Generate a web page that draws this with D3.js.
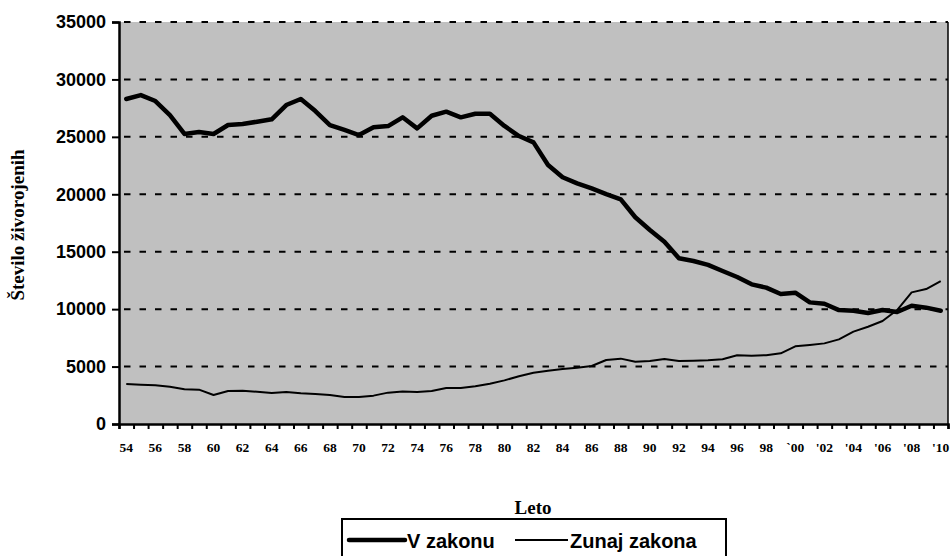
<!DOCTYPE html>
<html>
<head>
<meta charset="utf-8">
<script src="https://cdn.jsdelivr.net/npm/d3@7"></script>
<style>
	body { margin: 0; background: #fff; }
	svg { display: block; }
	.ytick text { font-family: Arial, 'Liberation Sans', sans-serif; font-weight: bold; font-size: 18px; }
	.xtick text { font-family: 'Times New Roman', 'Liberation Serif', serif; font-weight: bold; font-size: 13.5px; }
	.axis-title { font-family: 'Times New Roman', 'Liberation Serif', serif; font-weight: bold; font-size: 19px; }
	.legend text { font-family: Arial, 'Liberation Sans', sans-serif; font-weight: bold; font-size: 20px; }
</style>
</head>
<body>
<script>
const years = d3.range(1954, 2011);
const yearLabels = ['54', '56', '58', '60', '62', '64', '66', '68', '70', '72', '74', '76', '78',
	'80', '82', '84', '86', '88', '90', '92', '94', '96', '98', '`00', "'02", "'04", "'06", "'08", "'10"];
const yTicks = [0, 5000, 10000, 15000, 20000, 25000, 30000, 35000];

// V zakonu (rojeni v zakonski zvezi)
const vZakonu = [28300, 28640, 28120, 26900, 25250, 25420, 25250, 26030, 26120, 26320,
	26530, 27770, 28300, 27250, 26030, 25600, 25160, 25830, 25940, 26700,
	25740, 26840, 27190, 26700, 27010, 27010, 25950, 25070, 24520, 22550,
	21480, 20950, 20520, 20020, 19560, 18000, 16890, 15870, 14430, 14190,
	13850, 13320, 12800, 12160, 11870, 11320, 11430, 10590, 10470, 9920,
	9860, 9660, 9920, 9750, 10300, 10130, 9860];

// Zunaj zakona
const zunajZakona = [3480, 3420, 3370, 3250, 3020, 2990, 2520, 2870, 2900, 2810,
	2700, 2790, 2670, 2610, 2520, 2350, 2350, 2470, 2730, 2840,
	2790, 2870, 3130, 3130, 3280, 3510, 3800, 4150, 4470, 4640,
	4790, 4900, 5050, 5570, 5690, 5420, 5480, 5660, 5480, 5510,
	5560, 5640, 5990, 5950, 5990, 6150, 6760, 6880, 7020, 7370,
	8040, 8470, 8970, 9920, 11460, 11750, 12450];

const svgSize = {'width' : 951, 'height' : 556};
const plot = {'left' : 119, 'top' : 22, 'right' : 948, 'bottom' : 424};

var svg = d3.select('body').append('svg')
	.attr('width', svgSize.width)
	.attr('height', svgSize.height);

var xBand = d3.scaleBand().domain(years).range([plot.left, plot.right]);
var xPos = (yr) => xBand(yr) + xBand.bandwidth() / 2;
var y = d3.scaleLinear().domain([0, 35000]).range([plot.bottom, plot.top]);

// plot area
svg.append('rect')
	.attr('x', plot.left)
	.attr('y', plot.top)
	.attr('width', plot.right - plot.left)
	.attr('height', plot.bottom - plot.top)
	.attr('fill', '#c0c0c0');

// dashed gridlines
svg.append('g')
	.selectAll('line')
	.data(yTicks.filter((d) => d > 0))
	.enter()
	.append('line')
	.attr('x1', plot.left + 2)
	.attr('x2', plot.right)
	.attr('y1', (d) => y(d))
	.attr('y2', (d) => y(d))
	.attr('stroke', '#000')
	.attr('stroke-width', 2)
	.attr('stroke-dasharray', '6.5,9')
	.attr('stroke-dashoffset', -3);

// right border
svg.append('line')
	.attr('x1', plot.right).attr('x2', plot.right)
	.attr('y1', plot.top).attr('y2', plot.bottom)
	.attr('stroke', '#000')
	.attr('stroke-width', 1.5);

// y axis
var yAxis = svg.append('g')
	.attr('class', 'ytick')
	.attr('transform', `translate(${plot.left}, 0)`)
	.call(d3.axisLeft(y).tickValues(yTicks).tickSize(7).tickPadding(6).tickFormat(d3.format('d')));
yAxis.select('.domain').attr('stroke-width', 2.5);
yAxis.selectAll('.tick line').attr('stroke-width', 2);

// x axis: ticks on category boundaries
var xTickScale = d3.scaleLinear().domain([0, years.length]).range([plot.left, plot.right]);
var xAxis = svg.append('g')
	.attr('transform', `translate(0, ${plot.bottom})`)
	.call(d3.axisBottom(xTickScale).tickValues(d3.range(0, years.length + 1)).tickSize(5).tickFormat(''));
xAxis.select('.domain').attr('stroke-width', 2.5);
xAxis.selectAll('.tick line').attr('stroke-width', 2);

svg.append('g')
	.attr('class', 'xtick')
	.selectAll('text')
	.data(yearLabels)
	.enter()
	.append('text')
	.attr('x', (d, i) => xPos(years[i * 2]))
	.attr('y', 452)
	.attr('text-anchor', 'middle')
	.text((d) => d);

// series
var line = d3.line()
	.x((d, i) => xPos(years[i]))
	.y((d) => y(d));

svg.append('path')
	.datum(zunajZakona)
	.attr('d', line)
	.attr('fill', 'none')
	.attr('stroke', '#000')
	.attr('stroke-width', 2)
	.attr('stroke-linejoin', 'round');

svg.append('path')
	.datum(vZakonu)
	.attr('d', line)
	.attr('fill', 'none')
	.attr('stroke', '#000')
	.attr('stroke-width', 4.5)
	.attr('stroke-linejoin', 'round')
	.attr('stroke-linecap', 'round');

// axis titles
svg.append('text')
	.attr('class', 'axis-title')
	.attr('x', 533)
	.attr('y', 514)
	.attr('text-anchor', 'middle')
	.text('Leto');

svg.append('text')
	.attr('class', 'axis-title')
	.attr('transform', 'translate(24, 225) rotate(-90)')
	.attr('text-anchor', 'middle')
	.text('Število živorojenih');

// legend
var legend = svg.append('g').attr('class', 'legend');
legend.append('rect')
	.attr('x', 342).attr('y', 519)
	.attr('width', 384).attr('height', 50)
	.attr('fill', '#fff')
	.attr('stroke', '#000')
	.attr('stroke-width', 2);
legend.append('line')
	.attr('x1', 349).attr('x2', 405)
	.attr('y1', 540).attr('y2', 540)
	.attr('stroke', '#000').attr('stroke-width', 4.5).attr('stroke-linecap', 'round');
legend.append('text').attr('x', 407).attr('y', 548).text('V zakonu');
legend.append('line')
	.attr('x1', 515).attr('x2', 568)
	.attr('y1', 540).attr('y2', 540)
	.attr('stroke', '#000').attr('stroke-width', 2);
legend.append('text').attr('x', 570).attr('y', 548).text('Zunaj zakona');
</script>
</body>
</html>
